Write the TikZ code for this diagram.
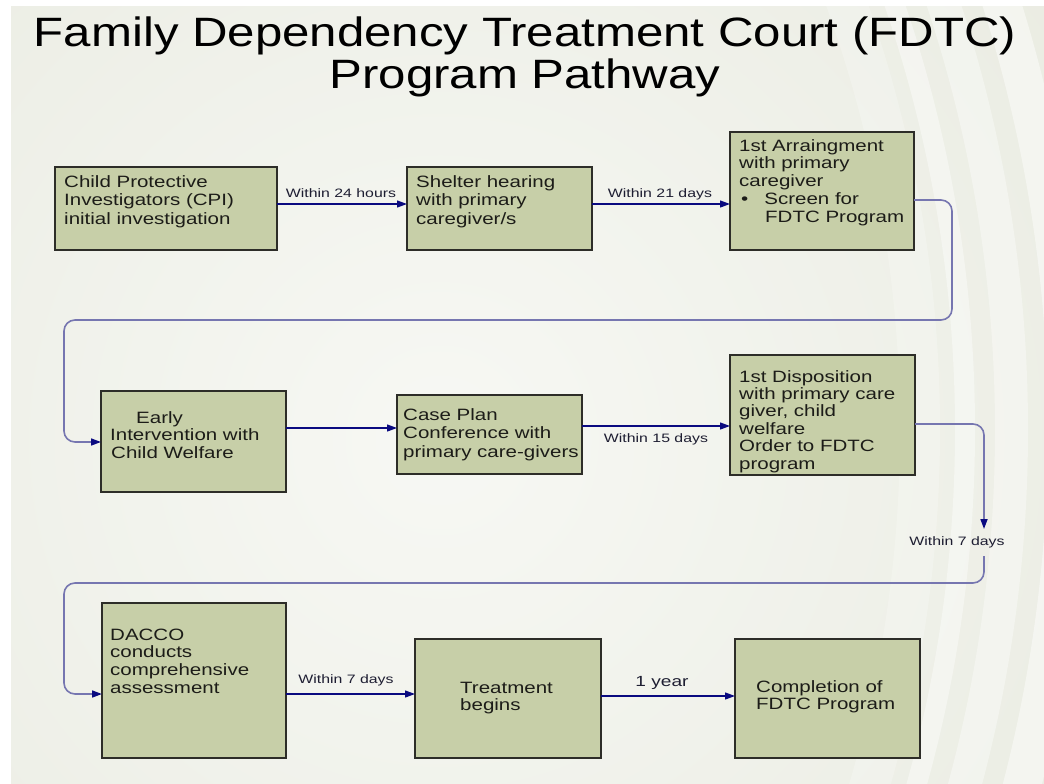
\documentclass[tikz,border=0pt]{standalone}
\usepackage{fontspec}
\setmainfont{Liberation Sans}
\newfontfamily\boxfont[FakeStretch=1.25]{Liberation Sans}
\newfontfamily\lblfont[FakeStretch=1.3]{Liberation Sans}
\newfontfamily\titlefont[FakeStretch=1.2]{Liberation Sans}
\usetikzlibrary{arrows.meta,calc}
\definecolor{boxfill}{RGB}{199,207,168}
\definecolor{boxline}{RGB}{45,45,40}
\definecolor{conn}{RGB}{10,10,128}
\definecolor{connlight}{RGB}{118,118,176}
\definecolor{bgouter}{RGB}{231,233,222}
\definecolor{bginner}{RGB}{247,248,244}
\definecolor{txt}{RGB}{28,28,24}
\definecolor{lbltxt}{RGB}{30,30,50}
\newcommand\blines[1]{\begin{tabular}[t]{@{}l@{}}#1\end{tabular}}
\tikzset{
  pbox/.style={draw=boxline, line width=1.4pt, fill=boxfill, inner sep=0pt, outer sep=0pt, anchor=north west},
  btext/.style={font=\boxfont\fontsize{16.4}{#1}\selectfont, inner sep=0pt, text=txt, anchor=base west},
  btext/.default=18.2,
  lbl/.style={font=\lblfont\fontsize{12.2}{14}\selectfont, inner sep=0pt, text=lbltxt, anchor=base},
  arr/.style={draw=conn, line width=1.2pt, -{Triangle[length=10pt,width=7pt]}},
  longarr/.style={draw=connlight, line width=1.6pt, rounded corners=11pt, -{Triangle[length=10pt,width=7pt,color=conn]}},
  ttl/.style={font=\titlefont\fontsize{41}{42}\selectfont, inner sep=0pt, text=black, anchor=base}
}
\begin{document}
\begin{tikzpicture}[x=1pt,y=-1pt]
\useasboundingbox (0,0) rectangle (1044,784);
\fill[white] (0,0) rectangle (1044,784);
% background
\begin{scope}
  \clip (11,7) rectangle (1044,784);
  \fill[bgouter] (11,7) rectangle (1044,784);
  \shade[inner color=bginner, outer color=bgouter] (440,440) circle (950);
  \fill[white, opacity=0.4, even odd rule] (-350,430) circle (1305) (-350,430) circle (1325);
  \fill[white, opacity=0.36, even odd rule] (-350,430) circle (1345) (-350,430) circle (1378);
  \fill[white, opacity=0.45, even odd rule] (-350,430) circle (1398) (-350,430) circle (1436);
  \fill[white, opacity=0.22, even odd rule] (-350,430) circle (1250) (-350,430) circle (1290);
\end{scope}
% title
\node[ttl] (title1) at (525,47) {Family Dependency Treatment Court (FDTC)};
\node[ttl] (title2) at (525,88.5) {Program Pathway};
% boxes
\node[pbox, minimum width=222pt, minimum height=83pt] (cpi) at (55,167) {};
\node[pbox, minimum width=185pt, minimum height=83pt] (shelter) at (407,167) {};
\node[pbox, minimum width=184pt, minimum height=118pt] (arraign) at (730,132) {};
\node[pbox, minimum width=185pt, minimum height=101pt] (early) at (101,391) {};
\node[pbox, minimum width=185pt, minimum height=79pt] (caseplan) at (397,395) {};
\node[pbox, minimum width=185pt, minimum height=120pt] (dispo) at (730,355) {};
\node[pbox, minimum width=184pt, minimum height=155pt] (dacco) at (102,603) {};
\node[pbox, minimum width=186pt, minimum height=119pt] (treat) at (415,639) {};
\node[pbox, minimum width=185pt, minimum height=119pt] (compl) at (735,639) {};
% box texts
\node[btext] (cpitext) at (64,187.7) {\blines{Child Protective\\Investigators (CPI)\\initial investigation}};
\node[btext] (sheltertext) at (416,187.7) {\blines{Shelter hearing\\with primary\\caregiver/s}};
\node[btext=17.75] (arraigntext) at (739,151) {\blines{1st Arraingment\\with primary\\caregiver\\\hspace*{2pt}\textbullet\hspace*{16pt}Screen for\\\hspace*{26pt}FDTC Program}};
\node[btext=17.5] (earlytext) at (110,423) {\blines{\hspace*{26pt}Early\\Intervention with\\\hspace*{1pt}Child Welfare}};
\node[btext=18.5] (caseplantext) at (403,420) {\blines{Case Plan\\Conference with\\primary care-givers}};
\node[btext=17.4] (dispotext) at (739,382) {\blines{1st Disposition\\with primary care\\giver, child\\welfare\\Order to FDTC\\program}};
\node[btext=17.7] (daccotext) at (110,640) {\blines{DACCO\\conducts\\comprehensive\\assessment}};
\node[btext=17] (treattext) at (460,693) {\blines{Treatment\\begins}};
\node[btext=17] (compltext) at (756,692) {\blines{Completion of\\FDTC Program}};
% labels
\node[lbl] (l24h) at (341,197) {Within 24 hours};
\node[lbl] (l21d) at (660,197) {Within 21 days};
\node[lbl] (l15d) at (656,442) {Within 15 days};
\node[lbl] (l7dr) at (957,545.7) {Within 7 days};
\node[lbl] (l7db) at (346,683) {Within 7 days};
\node[lbl, font=\lblfont\fontsize{14.7}{17}\selectfont] (l1y) at (662,686.7) {1 year};
% direct connectors
\draw[arr] (cpi.east |- 0,204) -- (shelter.west |- 0,204);
\draw[arr] (shelter.east |- 0,204) -- (arraign.west |- 0,204);
\draw[arr] (early.east |- 0,428) -- (caseplan.west |- 0,428);
\draw[arr] (caseplan.east |- 0,426) -- (dispo.west |- 0,426);
\draw[arr] (dacco.east |- 0,694) -- (treat.west |- 0,694);
\draw[arr] (treat.east |- 0,696) -- (compl.west |- 0,696);
% long connectors
\draw[longarr] (arraign.east |- 0,200) -- (952,200) -- (952,320) -- (64,320) -- (64,442) -- (early.west |- 0,442);
\coordinate (r2tip) at (984,529);
\coordinate (r2start) at (984,556);
\draw[longarr] (dispo.east |- 0,424) -- (984,424) -- (r2tip);
\draw[longarr] (r2start) -- (984,583) -- (64,583) -- (64,694) -- (dacco.west |- 0,694);
\end{tikzpicture}
\end{document}
